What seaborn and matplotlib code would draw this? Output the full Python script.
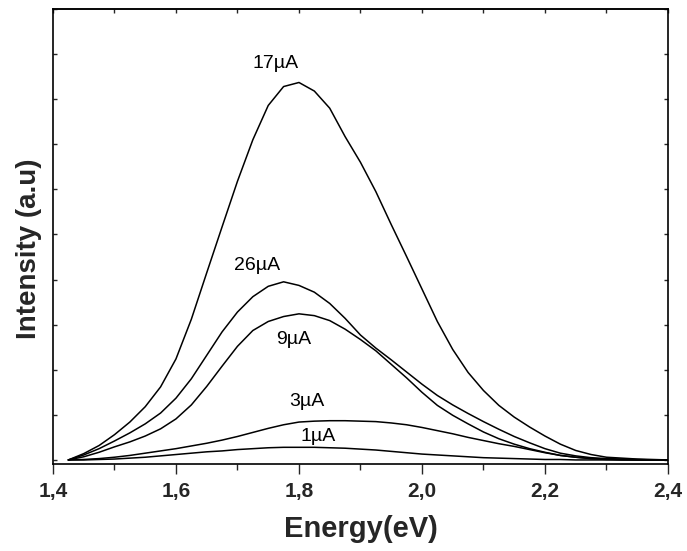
import numpy as np
import pandas as pd
import matplotlib
matplotlib.use("Agg")
import matplotlib.pyplot as plt
import seaborn as sns

# photon energy (eV)
energy = [1.425, 1.45, 1.475, 1.5, 1.525, 1.55, 1.575, 1.6, 1.625, 1.65,
          1.675, 1.7, 1.725, 1.75, 1.775, 1.8, 1.825, 1.85, 1.875, 1.9,
          1.925, 1.95, 1.975, 2.0, 2.025, 2.05, 2.075, 2.1, 2.125, 2.15,
          2.175, 2.2, 2.225, 2.25, 2.275, 2.3, 2.325, 2.35, 2.375, 2.4]

# intensity for each drive current (a.u.)
i_17uA = [0.0, 0.14, 0.32, 0.56, 0.84, 1.18, 1.62, 2.24, 3.12, 4.15,
          5.17, 6.18, 7.10, 7.86, 8.28, 8.37, 8.18, 7.80, 7.17, 6.60,
          5.95, 5.22, 4.51, 3.79, 3.07, 2.45, 1.94, 1.54, 1.21, 0.95,
          0.73, 0.53, 0.35, 0.21, 0.12, 0.06, 0.04, 0.02, 0.01, 0.0]
i_26uA = [0.0, 0.11, 0.25, 0.42, 0.60, 0.80, 1.04, 1.37, 1.80, 2.32,
          2.84, 3.28, 3.62, 3.85, 3.95, 3.87, 3.72, 3.47, 3.14, 2.77,
          2.48, 2.22, 1.95, 1.68, 1.43, 1.22, 1.03, 0.85, 0.68, 0.52,
          0.38, 0.25, 0.15, 0.09, 0.05, 0.03, 0.02, 0.01, 0.0, 0.0]
i_9uA = [0.0, 0.07, 0.17, 0.29, 0.40, 0.53, 0.69, 0.91, 1.22, 1.63,
         2.08, 2.52, 2.87, 3.07, 3.18, 3.24, 3.20, 3.09, 2.90, 2.67,
         2.42, 2.12, 1.82, 1.50, 1.21, 0.99, 0.80, 0.62, 0.47, 0.35,
         0.25, 0.17, 0.10, 0.06, 0.03, 0.02, 0.01, 0.0, 0.0, 0.0]
i_3uA = [0.0, 0.01, 0.03, 0.06, 0.10, 0.15, 0.20, 0.25, 0.31, 0.37,
         0.44, 0.52, 0.61, 0.70, 0.78, 0.84, 0.86, 0.87, 0.87, 0.86,
         0.85, 0.82, 0.78, 0.72, 0.65, 0.58, 0.50, 0.43, 0.36, 0.30,
         0.23, 0.16, 0.10, 0.06, 0.03, 0.01, 0.0, 0.0, 0.0, 0.0]
i_1uA = [0.0, 0.0, 0.01, 0.02, 0.04, 0.06, 0.09, 0.12, 0.15, 0.18,
         0.20, 0.23, 0.25, 0.27, 0.28, 0.28, 0.28, 0.27, 0.26, 0.24,
         0.22, 0.19, 0.16, 0.13, 0.11, 0.09, 0.07, 0.05, 0.04, 0.03,
         0.02, 0.01, 0.01, 0.0, 0.0, 0.0, 0.0, 0.0, 0.0, 0.0]

series = {"17µA": i_17uA, "26µA": i_26uA, "9µA": i_9uA, "3µA": i_3uA, "1µA": i_1uA}

# label anchors (energy, intensity)
label_names = ["17µA", "26µA", "9µA", "3µA", "1µA"]
label_x = [1.762, 1.732, 1.792, 1.813, 1.831]
label_y = [8.80, 4.32, 2.66, 1.29, 0.51]

xtick_vals = [1.4, 1.6, 1.8, 2.0, 2.2, 2.4]
xtick_labels = ["1,4", "1,6", "1,8", "2,0", "2,2", "2,4"]

sns.set_style("ticks")
plt.rcParams["font.family"] = ["Liberation Sans", "DejaVu Sans"]

fig = plt.figure(figsize=(6.87, 5.51), dpi=100)
ax = fig.add_axes([0.0771, 0.1579, 0.8952, 0.8258])

for name, vals in series.items():
    sns.lineplot(x=energy, y=vals, color="black", lw=1.1, estimator=None, ax=ax)

for name, lx, ly in zip(label_names, label_x, label_y):
    ax.text(lx, ly, name, fontsize=14, ha="center", va="center", color="black")

ax.set_xlim(1.4, 2.4)
ax.set_ylim(-0.09, 10)

ax.set_xticks(xtick_vals)
ax.set_xticklabels(xtick_labels, fontsize=15, fontweight="bold")
ax.set_xticks(np.arange(1.5, 2.4, 0.2), minor=True)
ax.set_yticks(range(0, 11))
ax.set_yticklabels([])

ax.tick_params(axis="x", which="major", direction="out", length=7, width=1.0, pad=6)
ax.tick_params(axis="x", which="minor", direction="out", length=4, width=1.0)
ax.tick_params(axis="y", which="major", direction="in", length=3, width=1.0,
               right=True)

# top axis ticks
top = ax.secondary_xaxis("top")
top.set_xticks(np.arange(1.4, 2.41, 0.1))
top.set_xticklabels([])
top.tick_params(direction="in", length=3, width=1.0)

for s in ax.spines.values():
    s.set_visible(True)
    s.set_linewidth(1.2)
    s.set_color("black")
top.spines["top"].set_linewidth(1.2)

ax.set_xlabel("Energy(eV)", fontsize=21, fontweight="bold", labelpad=10)
ax.set_ylabel("Intensity (a.u)", fontsize=20, fontweight="bold")
ax.yaxis.set_label_coords(-0.018, 0.473)

fig.savefig("out.png", dpi=100)
